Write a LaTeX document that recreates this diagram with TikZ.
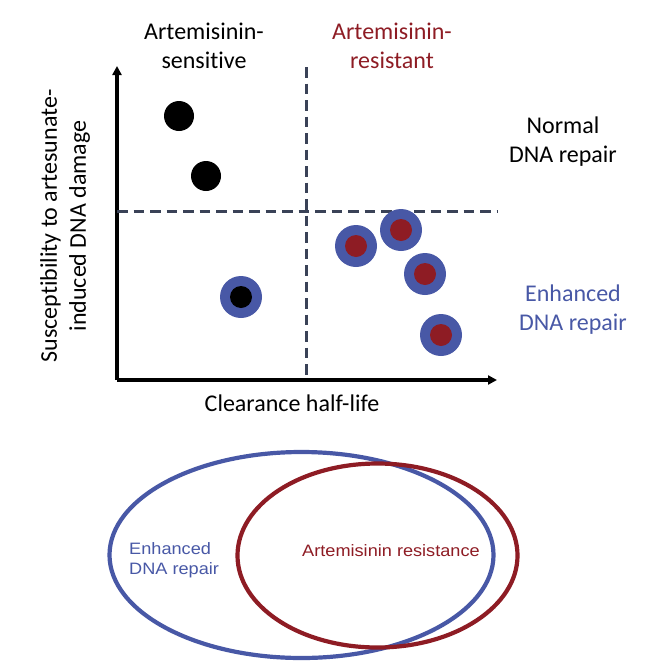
\documentclass[tikz,border=0pt]{standalone}
\usepackage{fontspec}
\setmainfont[Ligatures=CommonOff]{Carlito}
\newfontfamily\arialfont{Liberation Sans}
\usetikzlibrary{arrows.meta}
\definecolor{ringblue}{HTML}{4858A6}
\definecolor{darkred}{HTML}{8E1C24}
\definecolor{dashgray}{HTML}{3A4257}
\tikzset{
  lbl/.style={font=\fontsize{24}{29}\selectfont, align=center, inner sep=0pt},
  vlbl/.style={font=\arialfont\fontsize{16.5}{20}\selectfont, align=left, inner sep=0pt, xscale=1.1},
  axis/.style={line width=3.2pt, -{Triangle[length=9pt,width=9pt]}},
  divider/.style={dashgray, line width=3pt, dash pattern=on 10.5pt off 6pt},
  plain dot/.style={circle, fill=black, minimum size=30pt, inner sep=0pt},
  ring/.style={circle, fill=ringblue, minimum size=42pt, inner sep=0pt},
  core/.style={circle, minimum size=22pt, inner sep=0pt},
  venn/.style={line width=4.2pt}
}
\begin{document}
\begin{tikzpicture}[x=1pt,y=-1pt]
\useasboundingbox (0,0) rectangle (664,664);
% axes
\coordinate (O) at (117,380);
\coordinate (ytop) at (117,66);
\coordinate (xend) at (497,380);
\draw[axis] (O) -- (ytop);
\draw[axis] (O) -- (xend);
% dashed dividers
\coordinate (vtop) at (306,67);
\coordinate (vbot) at (306,380);
\coordinate (hl) at (117,211);
\coordinate (hr) at (497,211);
\draw[divider] (vtop) -- (vbot);
\draw[divider] (hl) -- (hr);
% labels
\node[lbl] (sens) at (204,46) {Artemisinin-\\sensitive};
\node[lbl, text=darkred] (res) at (392,46) {Artemisinin-\\resistant};
\node[lbl] (normal) at (563,142) {Normal\\DNA repair};
\node[lbl, text=ringblue] (enh) at (573,310) {Enhanced\\DNA repair};
\node[lbl] (xlab) at (292,403) {Clearance half-life};
\node[lbl, rotate=90] (ylab) at (65,226) {Susceptibility to artesunate-\\induced DNA damage};
% dots
\node[plain dot] (d1) at (179,116) {};
\node[plain dot] (d2) at (206,176) {};
\node[ring] (r0) at (241,297) {};
\node[core, fill=black] (c0) at (r0) {};
\node[ring] (r1) at (356,246) {};
\node[core, fill=darkred] (c1) at (r1) {};
\node[ring] (r2) at (401,230) {};
\node[core, fill=darkred] (c2) at (r2) {};
\node[ring] (r3) at (425,274) {};
\node[core, fill=darkred] (c3) at (r3) {};
\node[ring] (r4) at (441,335) {};
\node[core, fill=darkred] (c4) at (r4) {};
% Venn
\draw[venn, ringblue] (301.5,555) ellipse [x radius=192, y radius=103];
\draw[venn, darkred] (377.5,555.5) ellipse [x radius=140, y radius=92];
\node[vlbl, text=ringblue, anchor=west] (venh) at (129,560) {Enhanced\\DNA repair};
\node[vlbl, text=darkred, anchor=west] (vres) at (302,551) {Artemisinin resistance};
\end{tikzpicture}
\end{document}
